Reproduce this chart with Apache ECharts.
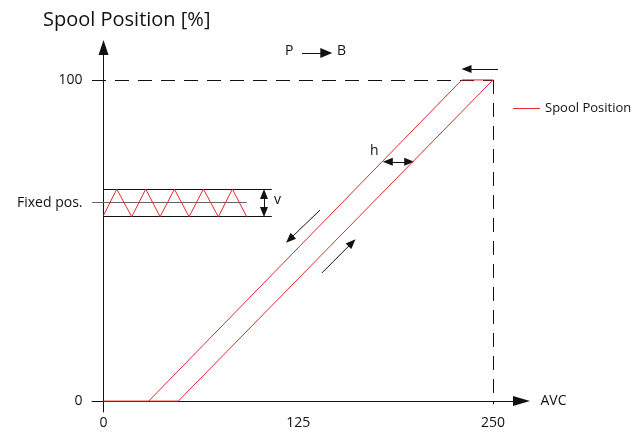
<!DOCTYPE html>
<html>
<head>
<meta charset="utf-8">
<script src="https://cdn.jsdelivr.net/npm/echarts@6/dist/echarts.min.js"></script>
<style>
  html, body { margin: 0; padding: 0; background: #fff; }
  #main { width: 644px; height: 433px; }
</style>
</head>
<body>
<div id="main"></div>
<script>
// hysteresis loop (AVC -> spool position)
var loopX = [0, 48, 250, 230, 29];
var loopY = [0, 0, 100, 100, 0];

// oscillation around the fixed position
var zigX = [0, 8.5, 18.1, 27.1, 36.3, 45.5, 54.9, 64.1, 73.7, 82.7, 91.9];
var zigY = [57.8, 66, 57.4, 66, 57.4, 66, 57.4, 66, 57.4, 66, 57.4];
var bandTop = 66;
var bandBottom = 57.4;
var fixedPos = 61.8;

var xTicks = [0, 125, 250];
var yTicks = [0, fixedPos, 100];
var yTickNames = ['0', 'Fixed pos.', '100'];

var font = 'Open Sans';
var red = '#e8262b';

function pairs(xs, ys) {
    return xs.map(function (x, i) { return [x, ys[i]]; });
}

function arrow(from, to, both) {
    return [
        { coord: from, symbol: both ? 'triangle' : 'none' },
        { coord: to, symbol: 'triangle' }
    ];
}

var myChart = echarts.init(document.getElementById('main'));
var option = {
    animation: false,
    title: {
        text: 'Spool Position [%]',
        left: 38,
        top: 5,
        textStyle: { fontFamily: font, fontSize: 20, fontWeight: 'normal', color: '#111' }
    },
    legend: {
        data: ['Spool Position'],
        left: 508,
        top: 97,
        icon: 'rect',
        itemWidth: 27,
        itemHeight: 1,
        itemGap: 4,
        textStyle: { fontFamily: font, fontSize: 13, color: '#111' }
    },
    grid: { left: 92, right: 122.5, top: 47.5, bottom: 21, show: false, outerBoundsMode: 'none', containLabel: false },
    xAxis: {
        type: 'value',
        min: -7.4,
        max: 268.3,
        name: 'AVC',
        nameLocation: 'end',
        nameGap: 19,
        nameTextStyle: { fontFamily: font, fontSize: 14, color: '#111' },
        splitLine: { show: false },
        axisLine: {
            onZero: true,
            symbol: ['none', 'triangle'],
            symbolSize: [10, 17],
            lineStyle: { color: '#111', width: 1 }
        },
        axisTick: { show: false },
        axisLabel: {
            customValues: xTicks,
            margin: 4,
            fontFamily: font,
            fontSize: 14,
            color: '#111'
        }
    },
    yAxis: {
        type: 'value',
        min: -3.4,
        max: 110.1,
        splitLine: { show: false },
        axisLine: {
            onZero: true,
            symbol: ['none', 'triangle'],
            symbolSize: [10, 15],
            lineStyle: { color: '#111', width: 1 }
        },
        axisTick: { show: false },
        axisLabel: {
            customValues: yTicks,
            margin: 9.5,
            fontFamily: font,
            fontSize: 14,
            color: '#111',
            formatter: function (v) {
                var i = yTicks.indexOf(v);
                return i >= 0 ? yTickNames[i] : '';
            }
        }
    },
    graphic: [
        { type: 'text', left: 285, top: 44, style: { text: 'P', fontFamily: font, fontSize: 14, fill: '#111' } },
        { type: 'text', left: 337, top: 44, style: { text: 'B', fontFamily: font, fontSize: 14, fill: '#111' } },
        { type: 'text', left: 370, top: 144, style: { text: 'h', fontFamily: font, fontSize: 14, fill: '#111' } },
        { type: 'text', left: 274, top: 193, style: { text: 'v', fontFamily: font, fontSize: 14, fill: '#111' } }
    ],
    series: [
        {
            name: 'Spool Position',
            type: 'line',
            data: pairs(loopX, loopY),
            showSymbol: false,
            symbol: 'none',
            clip: false,
            z: 5,
            lineStyle: { color: red, width: 1 },
            itemStyle: { color: red }
        },
        {
            name: 'oscillation',
            type: 'line',
            data: pairs(zigX, zigY),
            symbol: 'none',
            clip: false,
            z: 5,
            lineStyle: { color: red, width: 1 }
        },
        {
            name: 'band',
            type: 'line',
            data: [],
            symbol: 'none',
            clip: false,
            markLine: {
                silent: true,
                symbol: 'none',
                label: { show: false },
                lineStyle: { color: '#111', width: 1, type: 'solid' },
                data: [
                    [{ coord: [0, bandTop] }, { coord: [108, bandTop] }],
                    [{ coord: [0, bandBottom] }, { coord: [108, bandBottom] }],
                    [{ coord: [-7.4, fixedPos], lineStyle: { color: '#666' } }, { coord: [92, fixedPos] }],
                    [{ coord: [-7.4, 100], lineStyle: { type: [14, 9] } }, { coord: [250, 100] }],
                    [{ coord: [250, 100], lineStyle: { type: [14, 9] } }, { coord: [250, -1] }]
                ]
            }
        },
        {
            name: 'arrows',
            type: 'line',
            data: [],
            symbol: 'none',
            clip: false,
            markLine: {
                silent: true,
                symbolSize: [8, 10],
                label: { show: false },
                lineStyle: { color: '#111', width: 1, type: 'solid' },
                data: [
                    arrow([253.2, 103.4], [233, 103.4]),
                    [{ coord: [127.4, 108.4], symbol: 'none' }, { coord: [143, 108.4], symbol: 'triangle', symbolSize: [10, 12] }],
                    arrow([182.5, 74.5], [196.2, 74.5], true),
                    arrow([103, 64.5], [103, 58.9], true),
                    arrow([139, 59.5], [119.5, 50.4]),
                    arrow([140.2, 39.9], [159.5, 49.3])
                ]
            }
        }
    ]
};
myChart.setOption(option);
</script>
</body>
</html>
